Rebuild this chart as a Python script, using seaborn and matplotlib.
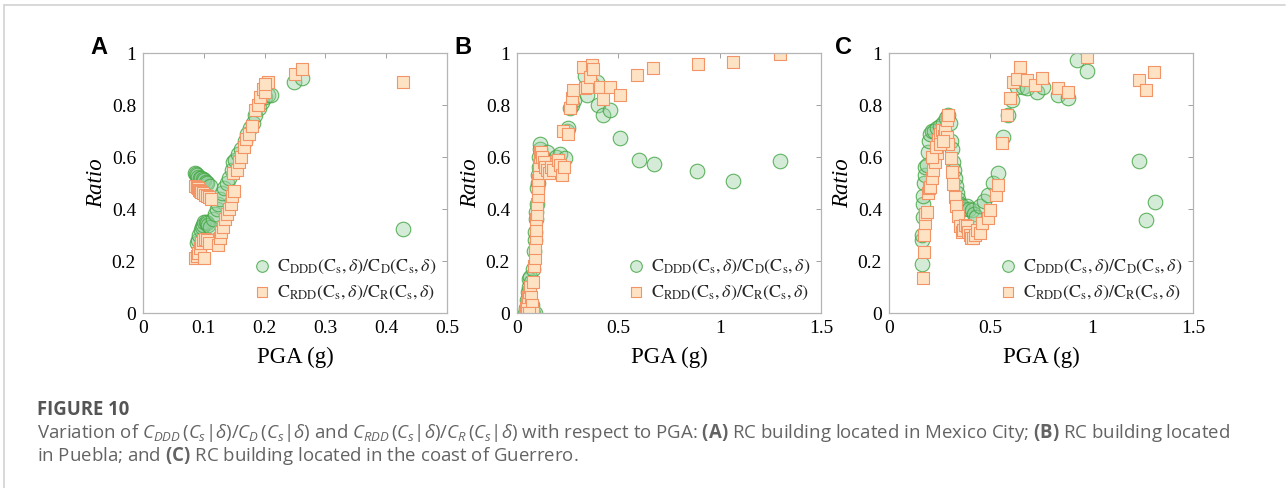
import numpy as np
import pandas as pd
import matplotlib
matplotlib.use("Agg")
import matplotlib.pyplot as plt
from matplotlib.lines import Line2D
import seaborn as sns

# ---------------- data ----------------
# Panel A: Mexico City
A_c_x = [0.085,0.087,0.089,0.091,0.093,0.095,0.098,0.100,0.103,0.106,0.110,
         0.088,0.090,0.092,0.095,0.097,0.099,0.101,0.103,0.105,0.107,0.110,
         0.115,0.118,0.121,0.124,0.127,0.130,0.134,0.138,0.142,0.146,
         0.148,0.152,0.157,0.162,0.167,0.171,0.176,0.181,0.185,0.190,
         0.195,0.200,0.205,0.210,0.248,0.262,0.428]
A_c_y = [0.54,0.535,0.53,0.525,0.52,0.52,0.515,0.51,0.505,0.50,0.49,
         0.27,0.28,0.30,0.32,0.33,0.34,0.35,0.35,0.345,0.34,0.33,
         0.36,0.38,0.40,0.42,0.44,0.46,0.48,0.50,0.52,0.55,
         0.58,0.59,0.61,0.63,0.66,0.69,0.71,0.73,0.76,0.79,
         0.81,0.83,0.84,0.84,0.89,0.905,0.325]
A_s_x = [0.086,0.088,0.090,0.092,0.094,0.096,0.099,0.102,0.105,0.108,0.112,
         0.086,0.088,0.090,0.093,0.096,0.099,0.102,0.105,0.108,0.100,
         0.123,0.126,0.129,0.132,0.135,0.138,0.141,0.144,0.147,0.149,
         0.148,0.154,0.158,0.162,0.166,0.170,0.174,0.179,0.184,0.189,
         0.193,0.197,0.201,0.205,0.201,0.250,0.261,0.428]
A_s_y = [0.49,0.485,0.48,0.475,0.47,0.465,0.46,0.455,0.45,0.445,0.44,
         0.21,0.22,0.23,0.25,0.27,0.28,0.285,0.28,0.27,0.21,
         0.26,0.29,0.31,0.33,0.36,0.38,0.40,0.42,0.45,0.47,
         0.54,0.55,0.58,0.60,0.64,0.67,0.69,0.72,0.78,0.80,
         0.83,0.86,0.85,0.89,0.88,0.92,0.94,0.89]

# Panel B: Puebla
B_c_x = [0.040,0.045,0.050,0.055,0.060,0.055,0.065,0.070,0.075,0.080,0.090,
         0.060,0.065,0.070,0.080,0.085,0.088,0.090,0.093,0.095,0.098,
         0.100,0.102,0.105,0.107,0.110,0.112,0.115,
         0.130,0.146,0.170,0.190,0.212,0.237,
         0.245,0.253,0.262,0.270,0.280,0.336,0.344,0.370,0.393,0.400,
         0.426,0.459,0.508,0.602,0.676,0.887,1.064,1.298]
B_c_y = [0.0,0.02,0.05,0.08,0.10,0.0,0.0,0.0,0.03,0.0,0.0,
         0.13,0.14,0.12,0.17,0.24,0.28,0.31,0.36,0.39,0.42,
         0.48,0.50,0.53,0.56,0.60,0.63,0.65,
         0.60,0.62,0.58,0.60,0.61,0.595,
         0.70,0.71,0.79,0.80,0.82,0.91,0.84,0.88,0.89,0.80,
         0.76,0.78,0.672,0.588,0.573,0.545,0.509,0.585]
B_s_x = [0.040,0.045,0.050,0.055,0.060,0.065,0.070,0.075,0.080,0.050,0.060,
         0.080,0.085,0.087,0.090,0.092,0.094,0.096,0.098,0.100,0.102,
         0.104,0.106,0.108,0.110,0.112,0.114,
         0.118,0.125,0.132,0.140,0.150,0.160,0.170,0.180,0.200,0.210,0.220,0.230,
         0.228,0.253,0.260,0.270,0.278,0.327,0.336,0.344,0.360,0.368,
         0.373,0.410,0.423,0.459,0.508,0.590,0.673,0.891,1.064,1.298]
B_s_y = [0.0,0.02,0.04,0.06,0.08,0.10,0.06,0.03,0.0,0.0,0.0,
         0.12,0.18,0.21,0.25,0.29,0.32,0.36,0.38,0.42,0.45,
         0.48,0.51,0.54,0.57,0.60,0.62,
         0.62,0.60,0.58,0.56,0.55,0.54,0.56,0.55,0.59,0.57,0.53,0.56,
         0.70,0.69,0.79,0.826,0.858,0.947,0.864,0.87,0.909,0.954,
         0.94,0.868,0.822,0.868,0.838,0.915,0.941,0.958,0.967,0.996]

# Panel C: coast of Guerrero
C_c_x = [0.162,0.161,0.163,0.166,0.168,0.169,0.172,0.176,0.180,0.186,
         0.192,0.197,0.202,0.210,0.220,0.235,0.250,0.265,0.280,0.293,
         0.300,0.305,0.309,0.315,0.320,0.325,0.330,0.335,0.340,0.350,
         0.360,0.370,0.383,0.395,0.408,0.420,0.430,0.449,0.470,0.490,
         0.514,0.539,
         0.564,0.588,0.605,0.630,0.660,0.679,0.729,0.760,0.836,0.885,
         0.926,0.975,1.234,1.266,1.313]
C_c_y = [0.19,0.28,0.30,0.37,0.42,0.45,0.50,0.53,0.56,0.57,
         0.62,0.66,0.69,0.70,0.70,0.71,0.72,0.73,0.75,0.76,
         0.73,0.66,0.63,0.58,0.55,0.52,0.49,0.46,0.44,0.42,
         0.41,0.40,0.41,0.40,0.397,0.38,0.37,0.41,0.43,0.455,
         0.50,0.537,
         0.678,0.76,0.82,0.87,0.87,0.864,0.851,0.87,0.84,0.826,
         0.973,0.932,0.585,0.358,0.428]
C_s_x = [0.169,0.172,0.175,0.177,0.180,0.186,0.190,0.195,0.202,0.210,
         0.219,0.225,0.235,0.243,0.250,0.260,0.270,0.277,0.284,0.293,
         0.284,0.290,0.210,0.230,0.250,0.265,
         0.305,0.309,0.317,0.325,0.333,0.341,0.350,0.358,0.366,0.375,
         0.383,0.390,0.399,0.407,0.415,0.425,0.432,0.449,0.457,0.490,
         0.498,0.526,0.539,
         0.559,0.584,0.596,0.613,0.630,0.646,0.679,0.721,0.754,0.836,
         0.885,0.975,1.234,1.268,1.310]
C_s_y = [0.133,0.236,0.30,0.345,0.38,0.39,0.46,0.48,0.486,0.52,
         0.55,0.58,0.614,0.666,0.69,0.705,0.68,0.70,0.742,0.761,
         0.678,0.65,0.60,0.64,0.65,0.66,
         0.595,0.544,0.497,0.448,0.41,0.372,0.333,0.31,0.32,0.34,
         0.333,0.31,0.30,0.29,0.288,0.30,0.32,0.306,0.345,0.364,
         0.396,0.452,0.492,
         0.655,0.761,0.826,0.89,0.90,0.945,0.896,0.877,0.902,0.864,
         0.851,0.983,0.896,0.857,0.928]

panels = [
    ("A", A_c_x, A_c_y, A_s_x, A_s_y, 0.5, [0, 0.1, 0.2, 0.3, 0.4, 0.5], ["0", "0.1", "0.2", "0.3", "0.4", "0.5"]),
    ("B", B_c_x, B_c_y, B_s_x, B_s_y, 1.5, [0, 0.5, 1, 1.5], ["0", "0.5", "1", "1.5"]),
    ("C", C_c_x, C_c_y, C_s_x, C_s_y, 1.5, [0, 0.5, 1, 1.5], ["0", "0.5", "1", "1.5"]),
]
y_ticks = [0, 0.2, 0.4, 0.6, 0.8, 1.0]
y_ticklabels = ["0", "0.2", "0.4", "0.6", "0.8", "1"]

lab_c = r"$\mathrm{C_{DDD}(C_s,}\delta\mathrm{)/C_D(C_s,}\delta\mathrm{)}$"
lab_s = r"$\mathrm{C_{RDD}(C_s,}\delta\mathrm{)/C_R(C_s,}\delta\mathrm{)}$"

# ---------------- style ----------------
sns.set_theme(style="white")
plt.rcParams["font.family"] = ["Liberation Serif", "DejaVu Serif"]
plt.rcParams["mathtext.fontset"] = "stix"
plt.rcParams["mathtext.rm"] = "Open Sans"
plt.rcParams["mathtext.it"] = "Open Sans:italic"
plt.rcParams["mathtext.bf"] = "Open Sans:bold"

W, H = 1288, 488
fig = plt.figure(figsize=(W / 100, H / 100), dpi=100)
fig.patch.set_facecolor("white")

circ_face = (0.58, 0.81, 0.62, 0.40)
circ_edge = (0.28, 0.66, 0.28, 0.85)
sq_face = (0.992, 0.886, 0.769, 1.0)
sq_edge = (0.95, 0.58, 0.40, 1.0)

lefts = [143, 517, 889]
letter_x = [99, 463, 843]
for (letter, cx, cy, sx, sy, xmax, xt, xtl), lp, lx in zip(panels, lefts, letter_x):
    ax = fig.add_axes([lp / W, (H - 313) / H, 304 / W, 260 / H])
    dfc = pd.DataFrame({"PGA": cx, "Ratio": cy})
    dfs = pd.DataFrame({"PGA": sx, "Ratio": sy})
    sns.scatterplot(data=dfc, x="PGA", y="Ratio", ax=ax, marker="o", s=110,
                    color=circ_face, edgecolor=circ_edge, linewidth=0.8, label=lab_c)
    sns.scatterplot(data=dfs, x="PGA", y="Ratio", ax=ax, marker="s", s=80,
                    color=sq_face, edgecolor=sq_edge, linewidth=0.8, label=lab_s)
    ax.set_xlim(0, xmax)
    ax.set_ylim(0, 1)
    ax.set_xticks(xt)
    ax.set_xticklabels(xtl)
    ax.set_yticks(y_ticks)
    ax.set_yticklabels(y_ticklabels)
    for sp in ax.spines.values():
        sp.set_color("#b5b5b5")
        sp.set_linewidth(0.9)
    ax.tick_params(direction="in", length=3.5, width=0.7, color="#a0a0a0",
                   top=True, right=True, labelsize=14, labelcolor="black",
                   pad=5)
    ax.set_xlabel("PGA (g)", fontsize=16.5, color="black")
    ax.set_ylabel("Ratio", fontsize=16.5, style="italic", color="black")
    ax.xaxis.set_label_coords(0.5, -0.13)
    ax.yaxis.set_label_coords(-0.118, 0.5)
    ax.grid(False)
    leg = ax.legend(loc="lower right", bbox_to_anchor=(1.0, 0.0), frameon=False,
                    fontsize=13, handletextpad=0.2, labelspacing=0.45,
                    borderaxespad=0.2, handlelength=1.2, markerscale=0.8)
    for t in leg.get_texts():
        t.set_math_fontfamily("stix")
    fig.text(lx / W, 1 - 48 / H, letter, fontsize=17, fontweight="bold",
             family=["Liberation Sans", "DejaVu Sans"], ha="center", va="center",
             color="black")

# frame lines
fig.add_artist(Line2D([4 / W, 1285 / W], [1 - 5 / H, 1 - 5 / H], color="#d2d2d2", lw=1.2))
fig.add_artist(Line2D([4 / W, 4 / W], [1 - 5 / H, 0], color="#d2d2d2", lw=1.2))

# caption
cap_col = "#636363"
cap_font = ["Open Sans", "DejaVu Sans"]
line1 = (r"Variation of $C_{DDD}\,(C_s|\delta)/C_D\,(C_s|\delta)$ and "
         r"$C_{RDD}\,(C_s|\delta)/C_R\,(C_s|\delta)$ with respect to PGA: "
         r"$\mathbf{(A)}$ RC building located in Mexico City; $\mathbf{(B)}$ RC building located")
line2 = r"in Puebla; and $\mathbf{(C)}$ RC building located in the coast of Guerrero."
t0 = fig.text(37 / W, 1 - 415 / H, "FIGURE 10", fontsize=12, fontweight="bold",
              family=cap_font, color="#555555", va="baseline", ha="left")
t1 = fig.text(37 / W, 1 - 438.5 / H, line1, fontsize=12, family=cap_font,
              color=cap_col, va="baseline", ha="left", math_fontfamily="custom")
t2 = fig.text(37 / W, 1 - 461 / H, line2, fontsize=12, family=cap_font,
              color=cap_col, va="baseline", ha="left", math_fontfamily="custom")
r = fig.canvas.get_renderer()
for t, target in [(t0, 92), (t1, 1195)]:
    w = t.get_window_extent(renderer=r).width
    t.set_fontsize(12 * target / w)
t2.set_fontsize(t1.get_fontsize())

fig.savefig("out.png", dpi=100, facecolor="white")
